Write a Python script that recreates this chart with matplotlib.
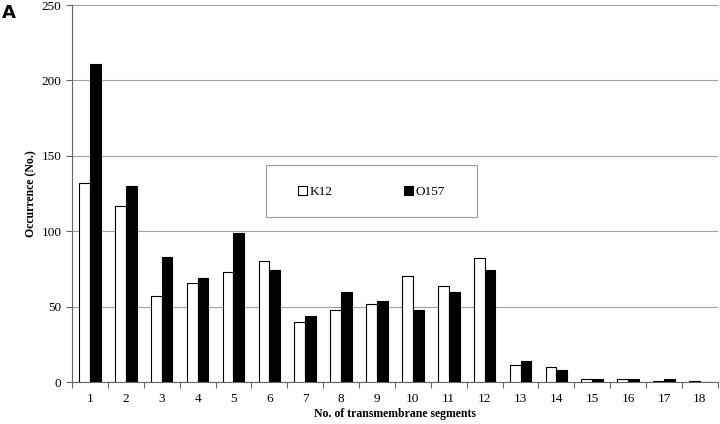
import numpy as np
import matplotlib
matplotlib.use('Agg')
import matplotlib.pyplot as plt
from matplotlib.patches import Rectangle

segments = list(range(1, 19))
k12 = [132, 117, 57, 66, 73, 80, 40, 48, 52, 70, 64, 82, 11, 10, 2, 2, 1, 1]
o157 = [211, 130, 83, 69, 99, 74, 44, 60, 54, 48, 60, 74, 14, 8, 2, 2, 2, 0]

plt.rcParams['font.family'] = 'Liberation Serif'

fig = plt.figure(figsize=(7.2, 4.24), dpi=100)
ax = fig.add_axes([0.1, 0.099, 0.897, 0.889])

x = np.arange(len(segments))
w = 0.3
ax.bar(x - w/2, k12, w, color='white', edgecolor='black', lw=0.8, label='K12', zorder=3)
ax.bar(x + w/2, o157, w, color='black', edgecolor='black', lw=0.8, label='O157', zorder=3)

ax.set_xlim(-0.5, len(segments) - 0.5)
ax.set_ylim(0, 250)
ax.set_yticks(range(0, 251, 50))
ax.yaxis.grid(True, color='#a0a0a0', lw=0.8, zorder=0)

ax.set_xticks(x)
ax.set_xticklabels([str(s) for s in segments])
ax.set_xticks(np.arange(-0.5, len(segments)), minor=True)
ax.tick_params(axis='x', which='major', length=0, labelsize=9.5, pad=8)
ax.tick_params(axis='x', which='minor', length=4, width=0.8, color='#666666')
ax.tick_params(axis='y', length=4, width=0.8, labelsize=9.5, color='#666666')

ax.spines['top'].set_visible(False)
ax.spines['right'].set_visible(False)
ax.spines['left'].set_color('#666666')
ax.spines['bottom'].set_color('#666666')

ax.set_ylabel('Occurrence (No.)', fontsize=8.5, fontweight='bold', labelpad=3)
ax.set_xlabel('No. of transmembrane segments', fontsize=8.5, fontweight='bold', labelpad=2)

# legend box drawn separately so the padding matches the original
ax.add_patch(Rectangle((0.3, 0.438), 0.327, 0.138, transform=ax.transAxes,
                       facecolor='white', edgecolor='#999999', lw=0.8, zorder=4))
leg = ax.legend(ncol=2, loc='center', bbox_to_anchor=(0.4635, 0.504),
                fontsize=9.5, frameon=False,
                handlelength=0.7, handleheight=0.7, handletextpad=0.2,
                borderpad=0, borderaxespad=0, columnspacing=5.4)
leg.set_zorder(5)

fig.text(0.002, 0.958, 'A', fontsize=13, fontweight='bold', family='DejaVu Sans')

plt.savefig('out.png', dpi=100)
